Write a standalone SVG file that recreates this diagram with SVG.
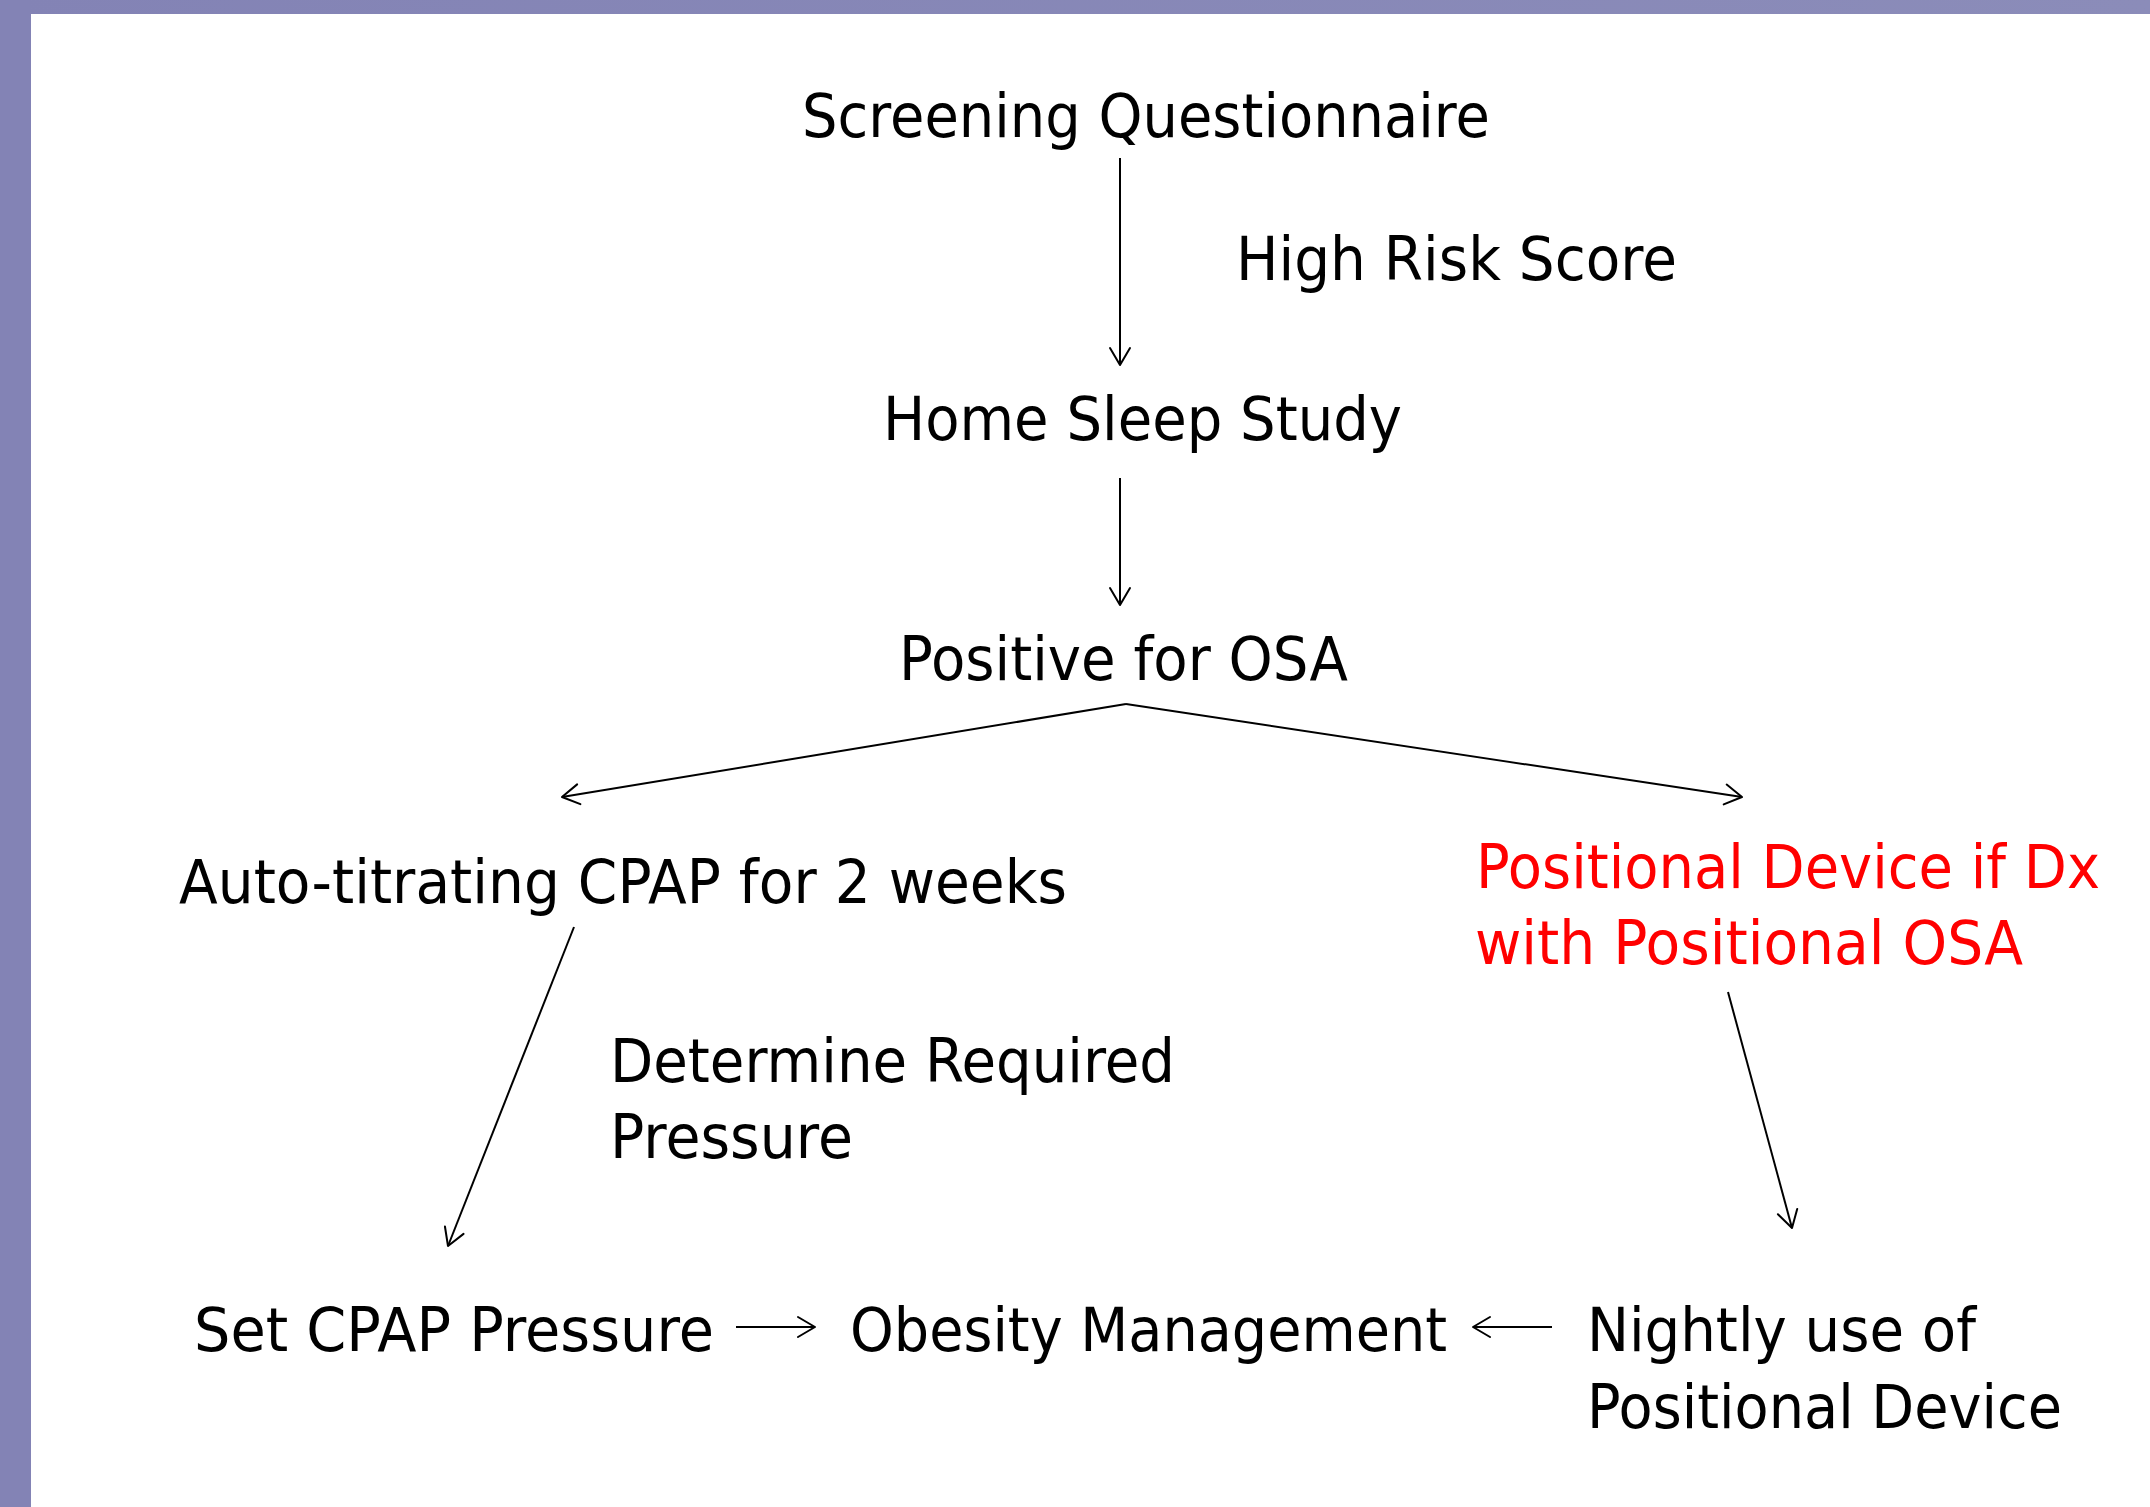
<svg xmlns="http://www.w3.org/2000/svg" width="2150" height="1507" viewBox="0 0 2150 1507">
  <defs>
    <linearGradient id="topBar" x1="0" y1="0" x2="1" y2="0">
      <stop offset="0" stop-color="#8383b5"/>
      <stop offset="1" stop-color="#8b8cb9"/>
    </linearGradient>
    <marker id="head" viewBox="-20 -12 22 24" markerWidth="22" markerHeight="24" refX="0" refY="0" markerUnits="userSpaceOnUse" orient="auto">
      <path d="M-17,-10 L0,0 L-17,10" fill="none" stroke="#000" stroke-width="2" stroke-linejoin="round" stroke-linecap="round"/>
    </marker>
    <style>
      .lbl { font-family: "DejaVu Sans", "Liberation Sans", sans-serif; font-size: 60px; fill: #000; }
      .red { fill: #ff0000; }
      .conn line { stroke: #000; stroke-width: 2; fill: none; marker-end: url(#head); }
    </style>
  </defs>

  <!-- slide background with framing bars -->
  <rect x="0" y="0" width="2150" height="1507" fill="#ffffff"/>
  <rect x="0" y="0" width="2150" height="14" fill="url(#topBar)"/>
  <rect x="0" y="0" width="31" height="1507" fill="#8383b5"/>

  <!-- connectors -->
  <g id="connectors" class="conn">
    <line x1="1120" y1="158" x2="1120" y2="365"/>
    <line x1="1120" y1="478" x2="1120" y2="605"/>
    <line x1="1126" y1="704" x2="562" y2="797"/>
    <line x1="1126" y1="704" x2="1742" y2="797"/>
    <line x1="574" y1="927" x2="448" y2="1246"/>
    <line x1="1728" y1="992" x2="1792" y2="1228"/>
    <line x1="736" y1="1327" x2="815" y2="1327"/>
    <line x1="1552" y1="1327" x2="1473" y2="1327"/>
  </g>

  <!-- nodes -->
  <g id="screening">
    <text class="lbl" x="802" y="137" textLength="688" lengthAdjust="spacingAndGlyphs">Screening Questionnaire</text>
  </g>
  <g id="high-risk">
    <text class="lbl" x="1236" y="280" textLength="441" lengthAdjust="spacingAndGlyphs">High Risk Score</text>
  </g>
  <g id="home-sleep-study">
    <text class="lbl" x="883" y="440" textLength="519" lengthAdjust="spacingAndGlyphs">Home Sleep Study</text>
  </g>
  <g id="positive-osa">
    <text class="lbl" x="899" y="680" textLength="449" lengthAdjust="spacingAndGlyphs">Positive for OSA</text>
  </g>
  <g id="auto-cpap">
    <text class="lbl" x="179" y="903" textLength="888" lengthAdjust="spacingAndGlyphs">Auto-titrating CPAP for 2 weeks</text>
  </g>
  <g id="determine-pressure">
    <text class="lbl" x="610" y="1082" textLength="565" lengthAdjust="spacingAndGlyphs">Determine Required</text>
    <text class="lbl" x="610" y="1158" textLength="243" lengthAdjust="spacingAndGlyphs">Pressure</text>
  </g>
  <g id="positional-device-dx">
    <text class="lbl red" x="1476" y="888" textLength="624" lengthAdjust="spacingAndGlyphs">Positional Device if Dx</text>
    <text class="lbl red" x="1475" y="964" textLength="548" lengthAdjust="spacingAndGlyphs">with Positional OSA</text>
  </g>
  <g id="set-cpap">
    <text class="lbl" x="194" y="1351" textLength="520" lengthAdjust="spacingAndGlyphs">Set CPAP Pressure</text>
  </g>
  <g id="obesity">
    <text class="lbl" x="850" y="1351" textLength="597" lengthAdjust="spacingAndGlyphs">Obesity Management</text>
  </g>
  <g id="nightly-use">
    <text class="lbl" x="1587" y="1351" textLength="389" lengthAdjust="spacingAndGlyphs">Nightly use of</text>
    <text class="lbl" x="1587" y="1428" textLength="475" lengthAdjust="spacingAndGlyphs">Positional Device</text>
  </g>
</svg>
